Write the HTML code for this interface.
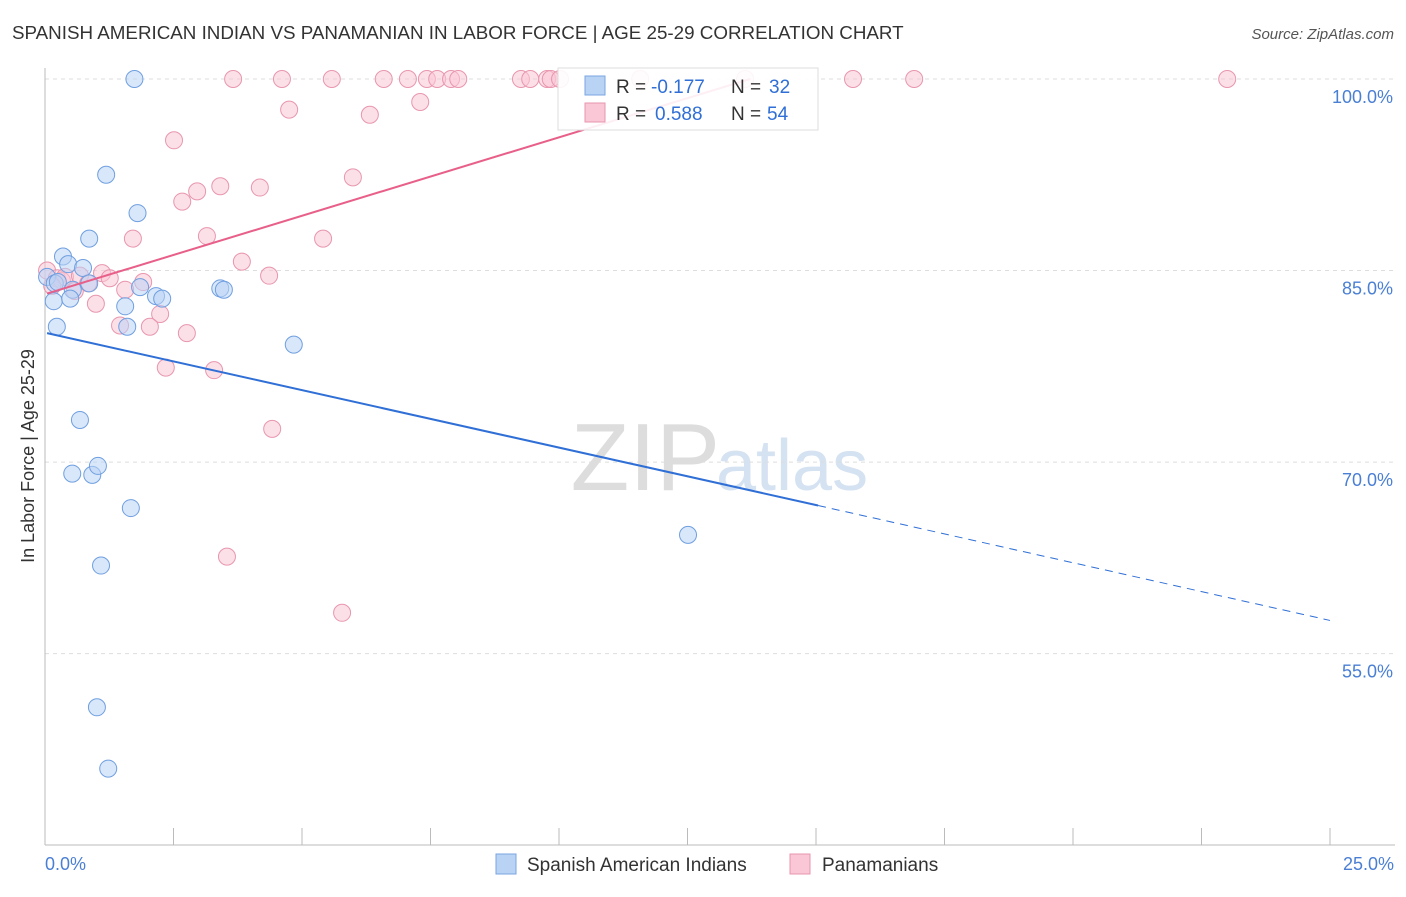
<!DOCTYPE html>
<html><head><meta charset="utf-8"><style>
body{margin:0;background:#fff;font-family:"Liberation Sans",sans-serif;}
svg text{font-family:"Liberation Sans",sans-serif;}
</style></head><body>
<svg id="chart" width="1406" height="892">
<text x="12" y="39" font-size="18.8" fill="#333">SPANISH AMERICAN INDIAN VS PANAMANIAN IN LABOR FORCE | AGE 25-29 CORRELATION CHART</text>
<text x="1394" y="39" font-size="15" fill="#555" font-style="italic" text-anchor="end">Source: ZipAtlas.com</text>
<text x="720" y="490" font-size="96" fill="#ddd" font-family="Liberation Serif" text-anchor="end">ZIP</text>
<text x="716" y="490" font-size="72" fill="#d4e2f2">atlas</text>
<g id="grid"></g>
<g id="axes"></g>
<g id="marks"></g>
<text transform="translate(34,456) rotate(-90)" font-size="18" fill="#333" text-anchor="middle">In Labor Force | Age 25-29</text>
<text x="45" y="870" font-size="18" fill="#4a7fd4">0.0%</text>
<text x="1394" y="870" font-size="18" fill="#4a7fd4" text-anchor="end">25.0%</text>
<g>
<rect x="496" y="854" width="20" height="20" fill="#b9d3f5" stroke="#7aa6e0"/>
<text x="527" y="871" font-size="19" fill="#333">Spanish American Indians</text>
<rect x="790" y="854" width="20" height="20" fill="#f9c7d5" stroke="#e896ae"/>
<text x="822" y="871" font-size="19" fill="#333">Panamanians</text>
</g>
<g>
<rect x="558" y="68" width="260" height="62" fill="#fff" fill-opacity="0.9" stroke="#ddd"/>
<rect x="585" y="76" width="20" height="19" fill="#b9d3f5" stroke="#7aa6e0"/>
<text x="616" y="93" font-size="19" fill="#333">R =</text>
<text x="651" y="93" font-size="19" fill="#2f6fd6">-0.177</text>
<text x="731" y="93" font-size="19" fill="#333">N =</text>
<text x="769" y="93" font-size="19" fill="#2f6fd6">32</text>
<rect x="585" y="103" width="20" height="19" fill="#f9c7d5" stroke="#e896ae"/>
<text x="616" y="120" font-size="19" fill="#333">R =</text>
<text x="655" y="120" font-size="19" fill="#2f6fd6">0.588</text>
<text x="731" y="120" font-size="19" fill="#333">N =</text>
<text x="767" y="120" font-size="19" fill="#2f6fd6">54</text>
</g>
</svg>
<script>
const yTicks=[100,85,70,55];
const yTickLabels=["100.0%","85.0%","70.0%","55.0%"];
const xTicks=[0,2.5,5,7.5,10,12.5,15,17.5,20,22.5,25];
const blueX=[1.74,1.19,1.8,0.86,0.35,0.45,0.74,0.04,0.19,0.25,0.54,0.86,0.17,0.49,2.16,2.28,1.85,3.41,3.48,1.56,1.6,0.23,4.84,0.68,0.53,0.92,1.03,1.67,1.09,1.01,1.23,12.51];
const blueY=[100,92.5,89.5,87.5,86.1,85.5,85.2,84.5,84.0,84.1,83.5,84.0,82.6,82.8,83.0,82.8,83.7,83.6,83.5,82.2,80.6,80.6,79.2,73.3,69.1,69.0,69.7,66.4,61.9,50.8,46.0,64.3];
const pinkX=[0.04,0.23,0.33,0.39,0.58,0.68,0.14,1.11,1.26,0.84,0.99,1.56,1.91,1.46,1.71,2.24,2.04,2.51,2.67,2.96,3.41,3.15,2.76,2.35,3.83,3.29,4.18,4.36,4.42,4.75,5.41,5.99,6.32,7.3,3.54,5.78,3.66,4.61,5.58,6.59,7.06,7.43,7.63,7.9,8.04,9.26,9.44,9.77,9.84,10.02,11.58,13.62,15.72,16.91,23.0];
const pinkY=[85.0,84.4,84.2,84.5,83.4,84.6,83.8,84.8,84.4,84.0,82.4,83.5,84.1,80.7,87.5,81.6,80.6,95.2,90.4,91.2,91.6,87.7,80.1,77.4,85.7,77.2,91.5,84.6,72.6,97.6,87.5,92.3,97.2,98.2,62.6,58.2,100,100,100,100,100,100,100,100,100,100,100,100,100,100,100,100,100,100,100];
const blueLine=[[0.04,80.1],[15.04,66.6]];
const blueDash=[[15.04,66.6],[25,57.6]];
const pinkLine=[[0.04,83.2],[13.72,100]];
const X=v=>45+v*51.4, Y=v=>79+(100-v)*12.77;
const NS="http://www.w3.org/2000/svg";
function mk(tag,parent,attrs){const e=document.createElementNS(NS,tag);for(const k in attrs)e.setAttribute(k,attrs[k]);document.getElementById(parent).appendChild(e);return e;}
yTicks.forEach((t,i)=>{
 const l=mk('line','grid',{x1:45,x2:1395,y1:Y(t),y2:Y(t),stroke:'#ddd','stroke-dasharray':'4,4'});
 
 
 const tx=mk('text','grid',{x:1393,y:Y(t)+24,'font-size':18,fill:'#4a7fd4','text-anchor':'end'});
 tx.textContent=yTickLabels[i];
 
 
});
const ax=mk('line','axes',{x1:45,x2:1395,y1:845,y2:845,stroke:'#bbb'});


const ay=mk('line','axes',{x1:45,x2:45,y1:68,y2:845,stroke:'#bbb'});


xTicks.forEach(t=>{
 const l=mk('line','axes',{x1:X(t),x2:X(t),y1:828,y2:845,stroke:'#bbb'});
 
 
});
function dots(xs,ys,fill,stroke,name){
 xs.forEach((x,i)=>{
  const c=mk('circle','marks',{cx:X(x),cy:Y(ys[i]),r:8.5,fill:fill,'fill-opacity':0.55,stroke:stroke,'stroke-width':1});
  
  
 });
}
dots(pinkX,pinkY,'#f9c7d5','#e896ae','panamanian-point');
dots(blueX,blueY,'#b9d3f5','#6f9fe0','spanish-american-indian-point');
const bl=mk('line','marks',{x1:X(blueLine[0][0]),y1:Y(blueLine[0][1]),x2:X(blueLine[1][0]),y2:Y(blueLine[1][1]),stroke:'#2f6fd6','stroke-width':2});


const bd=mk('line','marks',{x1:X(blueDash[0][0]),y1:Y(blueDash[0][1]),x2:X(blueDash[1][0]),y2:Y(blueDash[1][1]),stroke:'#2f6fd6','stroke-width':1,'stroke-dasharray':'8,6'});


const pl=mk('line','marks',{x1:X(pinkLine[0][0]),y1:Y(pinkLine[0][1]),x2:X(pinkLine[1][0]),y2:Y(pinkLine[1][1]),stroke:'#e8608a','stroke-width':2});


</script>
</body></html>
